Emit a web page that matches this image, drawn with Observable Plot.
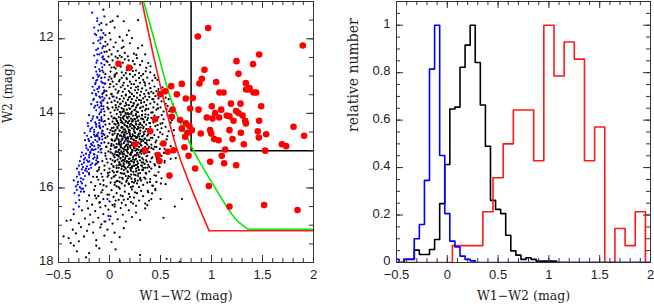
<!DOCTYPE html>
<html><head><meta charset="utf-8">
<script src="https://cdn.jsdelivr.net/npm/d3@7"></script>
<script src="https://cdn.jsdelivr.net/npm/@observablehq/plot@0.6"></script>
<style>
html,body{margin:0;padding:0;background:#fff}
#wrap{display:flex;width:654px;height:305px;overflow:hidden}
#wrap svg{display:block}
</style></head><body><div id="wrap"></div>
<script>
// ---------------- DATA ----------------
const colorTicks = [-0.5, 0, 0.5, 1, 1.5, 2];
const w2Ticks = [12, 14, 16, 18];
const relTicks = [0, 0.2, 0.4, 0.6, 0.8, 1];
const w2Domain = [11, 18];
const relDomain = [0, 1.1];

// left panel: black sources (W1-W2, W2 pairs)
const blackDots = [
-0.06,11.22, 0.03,11.52, 0.01,11.55, 0.14,11.53, 0.28,11.5, -0.08,11.77, 0.17,11.9, 0.19,11.78, -0.07,11.97, 0.05,11.7, 0.0,11.85, 0.1,11.95, -0.03,11.62, 0.22,11.98, 0.08,11.4, -0.04,11.9,
-0.04,12.08, -0.02,12.15, 0.0,12.3, -0.06,12.2, 0.02,12.42, 0.06,12.1, 0.12,12.25, 0.28,12.25, 0.32,12.18, 0.1,12.45, 0.15,12.38, 0.2,12.12, -0.05,12.35, 0.04,12.22, 0.08,12.33, 0.18,12.47, 0.24,12.4, -0.01,12.48, 0.13,12.05, 0.35,12.42, 0.06,12.48, 0.01,12.02,
-0.05,12.55, -0.02,12.62, 0.0,12.7, 0.03,12.58, 0.06,12.8, 0.09,12.66, 0.12,12.9, 0.15,12.55, 0.18,12.72, 0.2,12.95, 0.23,12.6, 0.26,12.85, 0.3,12.7, 0.33,12.95, 0.36,12.78, 0.4,12.9, 0.44,12.98, -0.07,12.85, -0.04,12.95, 0.01,12.88, 0.05,12.98, 0.08,12.52, 0.11,12.75, 0.14,12.98, 0.17,12.84, 0.22,12.78, 0.27,12.52, 0.29,12.92, 0.32,12.6, 0.38,12.65, 0.02,12.77, 0.07,12.92, 0.13,12.64, 0.25,12.97, 0.16,12.92,
-0.08,13.05, -0.05,13.2, -0.03,13.4, -0.01,13.1, 0.0,13.3, 0.02,13.48, 0.03,13.15, 0.05,13.02, 0.06,13.36, 0.07,13.22, 0.08,13.45, 0.1,13.1, 0.11,13.3, 0.12,13.05, 0.13,13.42, 0.14,13.18, 0.15,13.35, 0.16,13.5, 0.17,13.08, 0.18,13.26, 0.19,13.4, 0.2,13.15, 0.21,13.32, 0.22,13.48, 0.23,13.02, 0.24,13.22, 0.25,13.38, 0.26,13.12, 0.27,13.45, 0.28,13.28, 0.29,13.05, 0.3,13.18, 0.31,13.42, 0.32,13.33, 0.33,13.1, 0.34,13.48, 0.35,13.25, 0.36,13.38, 0.37,13.04, 0.38,13.45, 0.39,13.2, 0.4,13.32, 0.42,13.12, 0.43,13.46, 0.44,13.28, 0.46,13.4, 0.47,13.1, 0.48,13.35, 0.5,13.48, 0.52,13.3, -0.06,13.45, 0.04,13.28, 0.09,13.4, 0.13,13.25, 0.2,13.44, 0.26,13.3, 0.34,13.16, 0.41,13.42, 0.45,13.05, 0.0,13.02,
-0.1,13.55, -0.08,13.8, -0.06,13.65, -0.05,13.95, -0.03,13.52, -0.02,13.72, -0.01,13.88, 0.0,13.6, 0.01,13.98, 0.02,13.7, 0.03,13.84, 0.04,13.55, 0.05,13.92, 0.05,13.66, 0.06,13.78, 0.07,13.58, 0.08,13.9, 0.08,13.7, 0.09,13.82, 0.1,13.62, 0.1,13.96, 0.11,13.74, 0.12,13.53, 0.12,13.86, 0.13,13.68, 0.14,13.94, 0.14,13.6, 0.15,13.8, 0.16,13.52, 0.16,13.72, 0.17,13.9, 0.18,13.64, 0.18,13.99, 0.19,13.78, 0.2,13.56, 0.2,13.88, 0.21,13.7, 0.22,13.62, 0.22,13.95, 0.23,13.8, 0.24,13.54, 0.24,13.74, 0.25,13.9, 0.26,13.66, 0.26,13.84, 0.27,13.58, 0.28,13.97, 0.28,13.76, 0.29,13.64, 0.3,13.86, 0.3,13.52, 0.31,13.72, 0.32,13.94, 0.33,13.6, 0.33,13.82, 0.34,13.7, 0.35,13.55, 0.35,13.92, 0.36,13.78, 0.37,13.64, 0.38,13.88, 0.39,13.56, 0.4,13.74, 0.41,13.98, 0.42,13.62, 0.43,13.84, 0.44,13.7, 0.45,13.54, 0.46,13.9, 0.47,13.76, 0.48,13.6, 0.5,13.84, 0.51,13.68, 0.53,13.95, 0.55,13.58, 0.57,13.8, 0.6,13.9, 0.62,13.75, 0.65,13.98, 0.56,13.88, 0.52,13.52, 0.58,13.62, 0.11,13.98, 0.19,13.58,
-0.12,14.1, -0.1,14.35, -0.08,14.2, -0.07,14.48, -0.05,14.05, -0.04,14.3, -0.02,14.42, -0.01,14.15, 0.0,14.28, 0.01,14.45, 0.02,14.08, 0.03,14.22, 0.04,14.38, 0.05,14.12, 0.05,14.48, 0.06,14.3, 0.07,14.02, 0.07,14.2, 0.08,14.4, 0.09,14.1, 0.09,14.32, 0.1,14.46, 0.11,14.18, 0.11,14.04, 0.12,14.36, 0.13,14.26, 0.13,14.12, 0.14,14.44, 0.15,14.06, 0.15,14.32, 0.16,14.2, 0.16,14.48, 0.17,14.1, 0.18,14.38, 0.18,14.24, 0.19,14.02, 0.2,14.3, 0.2,14.46, 0.21,14.14, 0.22,14.4, 0.22,14.22, 0.23,14.06, 0.24,14.34, 0.24,14.48, 0.25,14.16, 0.26,14.28, 0.26,14.02, 0.27,14.42, 0.28,14.2, 0.28,14.36, 0.29,14.08, 0.3,14.26, 0.3,14.46, 0.31,14.14, 0.32,14.32, 0.32,14.04, 0.33,14.4, 0.34,14.22, 0.35,14.1, 0.35,14.48, 0.36,14.3, 0.37,14.18, 0.38,14.42, 0.38,14.04, 0.39,14.26, 0.4,14.36, 0.41,14.12, 0.42,14.46, 0.43,14.24, 0.44,14.06, 0.45,14.34, 0.46,14.18, 0.47,14.44, 0.48,14.1, 0.5,14.28, 0.51,14.4, 0.53,14.16, 0.55,14.36, 0.57,14.05, 0.6,14.25, 0.63,14.45, 0.58,14.48, 0.12,14.22, 0.17,14.34, 0.21,14.28, 0.25,14.38, 0.29,14.3, 0.33,14.16, 0.08,14.26, 0.03,14.48, 0.27,14.12, 0.19,14.44, 0.14,14.16, 0.36,14.42, 0.23,14.2,
-0.13,14.6, -0.11,14.85, -0.1,14.7, -0.08,14.95, -0.06,14.55, -0.05,14.78, -0.03,14.9, -0.02,14.62, -0.01,14.8, 0.0,14.52, 0.01,14.96, 0.02,14.7, 0.03,14.58, 0.04,14.86, 0.05,14.74, 0.05,14.54, 0.06,14.92, 0.07,14.66, 0.07,14.82, 0.08,14.56, 0.09,14.98, 0.09,14.72, 0.1,14.6, 0.11,14.88, 0.11,14.76, 0.12,14.52, 0.13,14.94, 0.13,14.68, 0.14,14.8, 0.15,14.58, 0.15,14.9, 0.16,14.7, 0.17,14.54, 0.17,14.84, 0.18,14.96, 0.18,14.64, 0.19,14.76, 0.2,14.56, 0.2,14.88, 0.21,14.68, 0.22,14.98, 0.22,14.8, 0.23,14.6, 0.24,14.72, 0.24,14.92, 0.25,14.52, 0.26,14.84, 0.26,14.66, 0.27,14.96, 0.28,14.58, 0.28,14.78, 0.29,14.9, 0.3,14.7, 0.3,14.54, 0.31,14.86, 0.32,14.62, 0.32,14.98, 0.33,14.74, 0.34,14.56, 0.35,14.9, 0.35,14.68, 0.36,14.8, 0.37,14.6, 0.38,14.94, 0.39,14.72, 0.4,14.52, 0.41,14.84, 0.42,14.66, 0.43,14.96, 0.44,14.58, 0.45,14.78, 0.46,14.9, 0.48,14.64, 0.5,14.82, 0.52,14.56, 0.54,14.95, 0.56,14.7, 0.6,14.88, 0.63,14.6, 0.66,14.98, 0.07,14.9, 0.12,14.62, 0.16,14.98, 0.19,14.5, 0.23,14.86, 0.27,14.64, 0.31,14.76, 0.34,14.98, 0.37,14.84, 0.02,14.82, -0.04,14.66, 0.1,14.84,
-0.15,15.1, -0.13,15.35, -0.12,15.2, -0.1,15.45, -0.08,15.05, -0.07,15.28, -0.05,15.4, -0.04,15.14, -0.02,15.32, -0.01,15.02, 0.0,15.48, 0.01,15.22, 0.02,15.36, 0.03,15.08, 0.04,15.44, 0.05,15.18, 0.05,15.3, 0.06,15.04, 0.07,15.4, 0.08,15.24, 0.08,15.12, 0.09,15.46, 0.1,15.34, 0.1,15.06, 0.11,15.2, 0.12,15.42, 0.12,15.28, 0.13,15.1, 0.14,15.38, 0.14,15.02, 0.15,15.24, 0.16,15.48, 0.16,15.14, 0.17,15.32, 0.18,15.06, 0.18,15.44, 0.19,15.22, 0.2,15.36, 0.2,15.1, 0.21,15.28, 0.22,15.46, 0.22,15.04, 0.23,15.18, 0.24,15.4, 0.24,15.3, 0.25,15.12, 0.26,15.48, 0.26,15.22, 0.27,15.06, 0.28,15.34, 0.28,15.44, 0.29,15.16, 0.3,15.26, 0.31,15.02, 0.31,15.4, 0.32,15.2, 0.33,15.32, 0.34,15.08, 0.35,15.46, 0.36,15.26, 0.37,15.14, 0.38,15.38, 0.39,15.04, 0.4,15.3, 0.41,15.48, 0.42,15.18, 0.44,15.36, 0.45,15.08, 0.47,15.26, 0.49,15.44, 0.51,15.14, 0.54,15.32, 0.57,15.05, 0.6,15.22, 0.03,15.26, 0.09,15.16, 0.15,15.44, 0.21,15.12, 0.27,15.38, 0.33,15.46, 0.07,15.12, -0.03,15.22, 0.19,15.3, 0.11,15.38, 0.65,15.2,
-0.2,15.6, -0.18,15.85, -0.16,15.7, -0.14,15.95, -0.12,15.55, -0.11,15.78, -0.09,15.9, -0.08,15.62, -0.06,15.8, -0.05,15.52, -0.03,15.96, -0.02,15.7, 0.0,15.58, 0.01,15.86, 0.02,15.74, 0.03,15.54, 0.05,15.92, 0.06,15.66, 0.07,15.82, 0.08,15.56, 0.09,15.98, 0.1,15.72, 0.11,15.6, 0.12,15.88, 0.13,15.76, 0.14,15.52, 0.15,15.94, 0.16,15.68, 0.17,15.8, 0.18,15.58, 0.19,15.9, 0.2,15.7, 0.21,15.54, 0.22,15.84, 0.23,15.96, 0.24,15.64, 0.25,15.76, 0.26,15.56, 0.27,15.88, 0.28,15.68, 0.29,15.98, 0.3,15.6, 0.31,15.8, 0.32,15.52, 0.33,15.92, 0.34,15.72, 0.36,15.62, 0.37,15.86, 0.39,15.56, 0.4,15.76, 0.42,15.94, 0.44,15.66, 0.46,15.84, 0.48,15.58, 0.51,15.74, 0.55,15.9, 0.04,15.7, 0.1,15.84, 0.18,15.74, 0.24,15.86, 0.3,15.76, -0.01,15.66, 0.14,15.62, 0.21,15.98, 0.07,15.96, -0.07,15.7,
-0.25,16.1, -0.22,16.35, -0.2,16.2, -0.17,16.45, -0.15,16.05, -0.13,16.28, -0.1,16.4, -0.08,16.12, -0.06,16.3, -0.04,16.48, -0.02,16.18, 0.0,16.36, 0.02,16.06, 0.04,16.24, 0.05,16.44, 0.07,16.14, 0.09,16.32, 0.1,16.02, 0.12,16.4, 0.13,16.22, 0.15,16.1, 0.16,16.46, 0.18,16.3, 0.19,16.16, 0.21,16.38, 0.22,16.04, 0.24,16.26, 0.26,16.48, 0.27,16.14, 0.29,16.34, 0.31,16.08, 0.33,16.22, 0.35,16.42, 0.38,16.12, 0.41,16.3, 0.45,16.06, 0.06,16.34, 0.11,16.2, 0.2,16.24, 0.25,16.12, -0.11,16.22, 0.03,16.46, 0.14,16.32, 0.23,16.42, 0.5,16.3, 0.71,16.3, 0.64,16.5,
-0.42,16.88, -0.38,16.86, -0.35,16.7, -0.3,16.95, -0.27,16.6, -0.24,16.82, -0.21,16.55, -0.19,16.72, -0.16,16.92, -0.14,16.62, -0.11,16.8, -0.09,16.52, -0.06,16.7, -0.04,16.9, -0.01,16.58, 0.01,16.76, 0.03,16.96, 0.06,16.64, 0.08,16.84, 0.11,16.54, 0.13,16.72, 0.16,16.9, 0.19,16.6, 0.22,16.78, 0.26,16.66, 0.3,16.86, 0.05,16.5, -0.2,16.98, 0.35,16.55, -0.08,16.98, 0.53,16.8,
-0.45,17.3, -0.4,17.35, -0.36,17.12, -0.33,17.22, -0.3,17.43, -0.28,17.05, -0.25,17.3, -0.22,17.15, -0.16,17.2, -0.13,17.4, -0.09,17.06, -0.05,17.28, -0.02,17.12, 0.02,17.45, 0.05,17.2, 0.1,17.32, -0.38,17.48, 0.14,17.08,
-0.35,17.55, -0.32,17.7, -0.23,17.86, -0.2,17.75, -0.13,17.55, -0.1,17.62, 0.06,17.65, 0.1,17.96, 0.3,17.8, 0.56,17.9, 0.69,17.98,
0.153,14.512, 0.217,14.633, 0.087,14.271, 0.312,14.855, 0.264,15.127, 0.138,15.342, 0.191,14.087, 0.243,13.914, 0.059,14.706, 0.377,14.569, 0.116,15.018, 0.285,14.395, 0.204,15.463, 0.331,15.239, 0.072,15.571, 0.168,13.773, 0.259,14.741, 0.142,14.958, 0.226,14.174, 0.309,13.655, 0.098,14.463, 0.186,15.683, 0.352,14.027, 0.041,15.136, 0.277,15.804, 0.129,14.384, 0.213,14.856, 0.296,15.048, 0.064,13.847, 0.237,15.327, 0.158,14.229, 0.342,14.682, 0.108,15.214, 0.251,14.517, 0.179,14.908, 0.023,14.396, 0.319,15.402, 0.147,15.619, 0.271,13.787, 0.201,14.352, 0.084,15.039, 0.363,15.151, 0.127,13.958, 0.233,15.572, 0.291,14.622, 0.052,14.918, 0.174,15.148, 0.398,14.258, 0.219,13.816, 0.106,14.587, 0.248,15.246, 0.321,14.144, 0.163,15.834, 0.037,15.412, 0.286,14.976, 0.137,14.083, 0.209,15.069, 0.355,15.597, 0.091,14.826, 0.262,14.301, 0.184,14.679, 0.118,15.489, 0.303,14.468, 0.066,14.152, 0.228,14.995, 0.388,14.896, 0.149,14.754, 0.276,15.456, 0.195,13.865, 0.047,15.689, 0.335,14.361, 0.112,14.913, 0.257,14.048, 0.171,15.281, 0.301,15.731, 0.082,14.548, 0.239,14.427, 0.412,15.205, 0.133,15.163, 0.215,15.751, 0.348,14.787, 0.016,14.873, 0.189,14.441, 0.267,14.866, 0.095,15.307, 0.317,14.711, 0.156,13.989, 0.243,15.408, 0.372,15.014, 0.074,14.609, 0.198,15.215, 0.283,14.186, 0.122,14.707, 0.227,14.563, 0.344,15.355, 0.058,15.272, 0.169,14.346, 0.256,15.658, 0.103,13.749, 0.295,15.169, 0.143,15.092, 0.211,14.017, 0.381,14.474, 0.031,14.563, 0.247,14.938, 0.176,15.551, 0.326,14.939, 0.089,15.148, 0.268,14.651, 0.151,14.427, 0.206,14.771, 0.359,13.879, 0.115,14.248, 0.236,15.151, 0.302,14.283, 0.069,15.463, 0.183,14.833, 0.272,15.289, 0.139,14.618, 0.223,14.317, 0.404,14.654, 0.048,14.284, 0.192,15.394, 0.313,15.084, 0.125,15.729, 0.258,14.221, 0.166,14.669, 0.339,14.241, 0.081,15.811, 0.245,14.784, 0.132,15.256, 0.218,15.287, 0.366,15.294, 0.012,15.047, 0.178,14.134, 0.289,14.543, 0.098,14.971, 0.264,15.539, 0.146,14.297, 0.231,14.698, 0.327,14.603, 0.061,14.441, 0.202,14.613, 0.281,15.618, 0.117,14.823, 0.253,15.003, 0.391,15.433, 0.161,14.864, 0.214,13.984, 0.309,14.995, 0.076,14.368, 0.194,14.203, 0.274,14.429, 0.135,15.423, 0.241,14.364, 0.352,15.752, 0.043,15.584, 0.173,15.021, 0.298,14.812, 0.109,14.123, 0.236,13.727, 0.155,15.196, 0.329,15.521, 0.087,14.691, 0.208,15.509, 0.265,13.951, 0.141,14.563, 0.221,15.413, 0.376,14.128, 0.027,14.727, 0.187,15.876, 0.304,14.379, 0.121,15.612, 0.249,14.612, 0.168,14.023, 0.343,15.062, 0.093,15.384, 0.259,15.382, 0.129,14.497, 0.197,14.529, 0.316,15.313, 0.054,15.857, 0.226,14.821, 0.283,15.106, 0.148,15.288, 0.212,15.641, 0.367,14.725, 0.102,15.093, 0.272,14.095, 0.181,14.264, 0.307,13.838, 0.078,14.218, 0.243,14.147, 0.159,15.479, 0.335,14.512, 0.116,14.386, 0.229,15.233, 0.289,15.517, 0.065,15.017, 0.176,14.739, 0.251,15.814, 0.138,13.889, 0.205,14.928, 0.372,15.453, 0.094,14.779, 0.264,14.986, 0.153,14.641, 0.217,15.048, 0.319,14.055, 0.039,14.136, 0.189,15.327, 0.296,14.684, 0.124,15.059,
-0.073,14.617, 0.497,14.512, -0.041,15.073, 0.463,15.216, -0.092,14.389, 0.512,14.047, 0.431,13.623, -0.021,13.837, 0.457,15.673, -0.114,15.316, 0.527,14.803, 0.418,16.147, -0.058,15.925, 0.476,13.869, -0.137,14.962, 0.489,15.426, 0.402,13.327, -0.003,16.183, 0.443,14.897, -0.087,13.702, 0.534,15.062, 0.426,15.944, -0.046,14.208, 0.471,14.316, -0.124,15.705, 0.551,13.742, 0.388,16.344, 0.007,13.216, 0.459,14.731, -0.068,16.058, 0.504,15.883, 0.423,13.974, -0.032,14.893, 0.482,13.418, -0.105,15.511, 0.567,14.613, 0.397,15.839, 0.018,13.489, 0.446,15.397, -0.079,14.152, 0.518,14.263, 0.376,16.081, -0.016,15.601, 0.465,14.132, -0.142,16.207, 0.541,15.274, 0.411,14.927, -0.051,13.383, 0.493,14.955, 0.371,16.463, 0.585,13.943, -0.095,16.381, 0.449,16.028, 0.612,14.183, 0.355,12.874, 0.263,12.433, 0.137,12.216, 0.046,12.763, 0.188,12.577, 0.311,12.991, -0.028,12.347, 0.093,13.141, 0.229,12.864, 0.402,12.737, 0.167,13.052, 0.281,13.362, 0.057,12.952, 0.347,13.186, 0.119,12.493, 0.214,13.213, 0.019,13.071, 0.387,13.474, 0.246,12.681
];

// left panel: blue sources
const blueDots = [
-0.17,11.3, -0.12,11.45, -0.08,11.58, -0.15,11.7, -0.1,11.62, -0.06,11.85, -0.13,11.9, -0.09,11.96, -0.05,11.4, -0.11,11.78,
-0.13,12.3, -0.1,12.42, -0.07,12.5, -0.12,12.58, -0.08,12.66, -0.05,12.7, -0.14,12.76, -0.1,12.82, -0.06,12.9, -0.12,12.96, -0.09,12.12, -0.04,12.2, -0.11,12.05, -0.07,12.25, -0.15,12.45, -0.03,12.6, -0.08,12.38, -0.13,12.88, -0.06,12.55, -0.1,12.98,
-0.16,13.05, -0.12,13.1, -0.08,13.15, -0.14,13.22, -0.1,13.28, -0.06,13.3, -0.15,13.38, -0.11,13.42, -0.07,13.48, -0.13,13.52, -0.09,13.58, -0.05,13.6, -0.16,13.64, -0.12,13.7, -0.08,13.74, -0.14,13.8, -0.1,13.84, -0.06,13.88, -0.13,13.92, -0.09,13.97, -0.17,13.46, -0.04,13.2, -0.11,13.02, -0.15,13.85, -0.07,13.66, -0.12,13.35, -0.08,13.9, -0.18,13.75, -0.05,13.42, -0.13,13.12,
-0.2,14.05, -0.16,14.08, -0.12,14.12, -0.08,14.1, -0.18,14.2, -0.14,14.24, -0.1,14.26, -0.06,14.22, -0.21,14.34, -0.17,14.38, -0.13,14.36, -0.09,14.4, -0.19,14.48, -0.15,14.5, -0.11,14.52, -0.07,14.46, -0.22,14.6, -0.18,14.64, -0.14,14.62, -0.1,14.66, -0.2,14.74, -0.16,14.78, -0.12,14.76, -0.08,14.8, -0.23,14.86, -0.19,14.9, -0.15,14.88, -0.11,14.92, -0.21,14.98, -0.17,14.96, -0.13,14.3, -0.05,14.58, -0.24,14.72, -0.1,14.02, -0.15,14.44, -0.07,14.7, -0.18,14.82, -0.12,14.56,
-0.27,15.05, -0.23,15.08, -0.19,15.04, -0.15,15.1, -0.28,15.16, -0.24,15.2, -0.2,15.18, -0.16,15.22, -0.12,15.14, -0.29,15.28, -0.25,15.32, -0.21,15.3, -0.17,15.34, -0.13,15.26, -0.3,15.4, -0.26,15.44, -0.22,15.42, -0.18,15.46, -0.14,15.38, -0.27,15.5, -0.23,15.48, -0.11,15.3, -0.2,15.12, -0.25,15.24,
-0.3,15.58, -0.26,15.6, -0.22,15.56, -0.32,15.7, -0.28,15.74, -0.24,15.68, -0.31,15.84, -0.27,15.88, -0.33,15.96, -0.29,15.98, -0.2,15.64, -0.35,15.8,
-0.32,16.05, -0.28,16.1, -0.3,16.2, -0.33,16.4, -0.3,16.5, -0.01,16.75, 0.0,16.85, -0.05,16.9, -0.26,16.02,
0.03,13.55, 0.12,14.7, 0.18,14.76, 0.05,15.1, -0.02,16.3,
-0.143,11.867, -0.087,12.017, -0.112,12.263, -0.064,12.473, -0.128,12.642, -0.093,12.873, -0.047,13.037, -0.137,13.183, -0.104,13.317, -0.071,13.553, -0.153,13.612, -0.118,13.777, -0.082,13.963, -0.167,14.143, -0.133,14.287, -0.097,14.331, -0.186,14.417, -0.152,14.571, -0.116,14.613, -0.078,14.537, -0.207,14.693, -0.171,14.853, -0.139,14.717, -0.093,14.872, -0.226,14.931, -0.188,15.063, -0.153,14.983, -0.254,15.123, -0.221,15.257, -0.186,15.383, -0.147,15.183, -0.271,15.367, -0.238,15.531, -0.203,15.493, -0.296,15.637, -0.257,15.773, -0.312,15.911, -0.276,16.023, -0.343,16.137, -0.296,16.327, -0.121,11.523, -0.158,12.118, -0.071,12.763, -0.165,13.287, -0.059,13.812, -0.213,14.263, -0.062,14.357, -0.244,14.527, -0.108,15.037, -0.318,15.483, -0.234,15.937, -0.353,16.573, -0.102,14.183, -0.134,13.477, -0.119,12.417, -0.176,14.987, -0.067,13.183, -0.197,15.287, -0.087,14.973, -0.281,15.827
];

// left panel: red (selected) sources
const redDots = [
0.088,12.67, 0.193,12.78, 0.967,11.71, 0.866,11.94, 1.895,12.18, 1.467,12.42, 1.245,12.60, 1.408,12.68, 0.931,12.83, 1.265,12.94,
0.905,13.07, 0.882,13.20, 1.046,13.16, 1.337,13.19, 0.709,13.21, 0.605,13.27, 1.373,13.32, 1.340,13.36, 1.366,13.36, 1.412,13.44,
1.438,13.44, 1.078,13.44, 1.118,13.44, 0.546,13.41, 0.497,13.49, 0.660,13.49, 0.748,13.60, 0.817,13.59, 1.190,13.74, 1.284,13.74,
1.487,13.81, 1.003,13.81, 0.873,13.90, 1.095,13.90, 1.242,13.94, 0.618,13.90, 0.791,13.87, 1.036,13.99, 1.265,13.99, 1.150,14.06,
1.304,14.06, 0.954,14.11, 1.010,14.14, 1.075,14.11, 1.176,14.08, 0.611,14.09, 0.448,14.16, 0.693,14.18, 1.216,14.20, 1.330,14.20,
1.467,14.20, 1.337,14.27, 0.748,14.27, 0.709,14.41, 0.765,14.52, 0.807,14.45, 0.987,14.45, 0.997,14.54, 1.176,14.45, 1.288,14.52,
1.454,14.48, 1.536,14.56, 1.804,14.36, 1.908,14.60, 0.895,14.54, 1.026,14.69, 1.069,14.72, 1.206,14.69, 1.464,14.65, 1.317,14.83,
1.690,14.83, 1.732,14.88, 1.134,14.97, 1.526,15.00, 0.399,14.48, 0.252,14.83, 0.350,15.00, 0.529,14.81, 0.572,15.03, 0.627,14.99,
0.735,14.91, 0.474,15.12, 0.490,15.28, 0.775,15.14, 0.987,15.30, 1.101,15.14, 1.124,15.34, 1.242,15.39, 0.840,15.48, 0.588,15.67,
0.974,15.95, 1.176,16.50, 1.516,16.46, 1.843,16.59, 0.742,14.63, 0.784,14.34
];

// selection curves (W1-W2 vs W2)
const redCutW12 = [0.318, 0.424, 0.536, 0.669, 0.816, 0.977];
const redCutW2  = [11.0, 12.36, 13.69, 15.03, 16.10, 17.15];
const greenCutW12 = [0.335, 0.473, 0.610, 0.830, 1.017, 1.232, 1.360];
const greenCutW2  = [11.0, 12.36, 13.69, 15.03, 15.91, 16.82, 17.11];
const boxW12 = 0.8, boxW2 = 15.0;

// right panel: histograms (bin centres and relative numbers)
const blueBinW = 0.05;
const blueCenters = [-0.5,-0.45,-0.4,-0.35,-0.3,-0.25,-0.2,-0.15,-0.1,-0.05,0,0.05,0.1,0.15,0.2,0.25];
const blueRel     = [0.014,0,0.014,0.014,0.10,0.16,0.346,0.815,1.0,0.451,0.206,0.09,0.066,0.027,0.013,0.007];
const blackBinW = 0.05;
const blackCenters = [-0.45,-0.4,-0.35,-0.3,-0.25,-0.2,-0.15,-0.1,-0.05,0,0.05,0.1,0.15,0.2,0.25,0.3,0.35,0.4,0.45,0.5,0.55,0.6,0.65,0.7,0.75,0.8,0.85,0.9,0.95,1.0,1.05];
const blackRel     = [0,0.013,0.013,0.052,0.034,0.034,0.055,0.097,0.248,0.413,0.647,0.655,0.823,0.916,1.0,0.843,0.664,0.49,0.262,0.224,0.206,0.115,0.049,0.031,0.013,0.02,0.013,0.006,0.006,0.006,0.006];
const redBinW = 0.1;
const redCenters = [0.1,0.2,0.3,0.4,0.5,0.6,0.7,0.8,0.9,1.0,1.1,1.2,1.3,1.4,1.5,1.6,1.7,1.8,1.9];
const redRel     = [0.071,0.071,0.071,0.214,0.357,0.5,0.643,0.643,0.429,1.0,0.786,0.929,0.857,0.429,0.571,0,0.143,0.071,0.214];

// ---------------- HELPERS ----------------
const pairs = a => d3.range(0, a.length, 2).map(i => ({x: a[i], y: a[i + 1]}));
const zipPts = (xs, ys) => xs.map((x, i) => ({x, y: ys[i]}));
function histSteps(centers, values, w, [x0, x1]) {
  const p = [];
  const first = centers[0] - w / 2;
  if (first > x0) p.push({x: x0, y: 0}, {x: first, y: 0});
  centers.forEach((c, i) => { p.push({x: c - w / 2, y: values[i]}, {x: c + w / 2, y: values[i]}); });
  const last = centers[centers.length - 1] + w / 2;
  p.push({x: last, y: 0});
  if (last < x1) p.push({x: x1, y: 0});
  return p;
}
const fmt = d3.format("");
const xDomain = [colorTicks[0], colorTicks[colorTicks.length - 1]];
const xMinor = d3.range(Math.round(xDomain[0] * 10), Math.round(xDomain[1] * 10) + 1).map(i => i / 10);
const frameColor = "#333";

function frameTicks(xMajor, xMinorT, yMajor, yMinorT, W, H) {
  const M = 7, m = 4, s = {stroke: frameColor, strokeWidth: 1};
  return [
    Plot.tickX(xMinorT, {x: d => d, insetTop: H - m, ...s}),
    Plot.tickX(xMinorT, {x: d => d, insetBottom: H - m, ...s}),
    Plot.tickX(xMajor, {x: d => d, insetTop: H - M, ...s}),
    Plot.tickX(xMajor, {x: d => d, insetBottom: H - M, ...s}),
    Plot.tickY(yMinorT, {y: d => d, insetLeft: W - m, ...s}),
    Plot.tickY(yMinorT, {y: d => d, insetRight: W - m, ...s}),
    Plot.tickY(yMajor, {y: d => d, insetLeft: W - M, ...s}),
    Plot.tickY(yMajor, {y: d => d, insetRight: W - M, ...s})
  ];
}
const labelFont = "DejaVu Serif";
const baseStyle = {fontFamily: "Liberation Sans", fontSize: "13px", background: "#fff", overflow: "visible", color: "#222"};

// ---------------- LEFT PANEL ----------------
{
  const width = 330, height = 305, mL = 58, mR = 17, mT = 1, mB = 43;
  const W = width - mL - mR, H = height - mT - mB;
  const yMinor = d3.range(w2Domain[0] * 2, w2Domain[1] * 2 + 1).map(i => i / 2);
  const redCurve = zipPts(redCutW12, redCutW2);
  const greenCurve = zipPts(greenCutW12, greenCutW2);
  const redFloor = [redCurve[redCurve.length - 1], {x: xDomain[1], y: redCutW2[redCutW2.length - 1]}];
  const greenFloor = [greenCurve[greenCurve.length - 1], {x: xDomain[1], y: greenCutW2[greenCutW2.length - 1]}];
  const box = [{x: boxW12, y: w2Domain[0]}, {x: boxW12, y: boxW2}, {x: xDomain[1], y: boxW2}];
  const left = Plot.plot({
    width, height, marginLeft: mL, marginRight: mR, marginTop: mT, marginBottom: mB,
    style: baseStyle,
    x: {domain: xDomain},
    y: {domain: w2Domain, reverse: true},
    marks: [
      Plot.dot(pairs(blackDots), {x: "x", y: "y", r: 1.1, fill: "#000", clip: true}),
      Plot.dot(pairs(blueDots), {x: "x", y: "y", r: 1.1, fill: "#0000ff", clip: true}),
      Plot.line(box, {x: "x", y: "y", stroke: "#000", strokeWidth: 1.5}),
      Plot.line(greenCurve, {x: "x", y: "y", stroke: "#00ee00", strokeWidth: 1.6, curve: "catmull-rom", clip: true}),
      Plot.line(greenFloor, {x: "x", y: "y", stroke: "#00ee00", strokeWidth: 1.6}),
      Plot.line(redCurve, {x: "x", y: "y", stroke: "#ff1a1a", strokeWidth: 1.6, curve: "catmull-rom", clip: true}),
      Plot.line(redFloor, {x: "x", y: "y", stroke: "#ff1a1a", strokeWidth: 1.6}),
      Plot.dot(pairs(redDots), {x: "x", y: "y", r: 3.3, fill: "#ff0000", clip: true}),
      Plot.frame({stroke: frameColor, strokeWidth: 1}),
      ...frameTicks(colorTicks, xMinor, w2Ticks, yMinor, W, H),
      Plot.axisX({ticks: colorTicks, tickSize: 0, tickPadding: 7, tickFormat: fmt, label: null}),
      Plot.axisY({ticks: w2Ticks, tickSize: 0, tickPadding: 5, dy: -1.5, tickFormat: fmt, label: null}),
      Plot.text(["W1\u2212W2 (mag)"], {frameAnchor: "bottom", dy: 33, fontFamily: labelFont, fontSize: 12.5, fill: "#222", lineAnchor: "middle"}),
      Plot.text(["W2 (mag)"], {frameAnchor: "left", dx: -50, dy: -9, rotate: -90, fontFamily: labelFont, fontSize: 12, fill: "#222", lineAnchor: "middle"})
    ]
  });
  document.getElementById("wrap").append(left);
}

// ---------------- RIGHT PANEL ----------------
{
  const width = 324, height = 305, mL = 66, mR = 4, mT = 1, mB = 43;
  const W = width - mL - mR, H = height - mT - mB;
  const yMinor = d3.range(0, Math.round(relDomain[1] * 20) + 1).map(i => i / 20);
  const right = Plot.plot({
    width, height, marginLeft: mL, marginRight: mR, marginTop: mT, marginBottom: mB,
    style: baseStyle,
    x: {domain: xDomain},
    y: {domain: relDomain},
    marks: [
      Plot.line(histSteps(blackCenters, blackRel, blackBinW, xDomain), {x: "x", y: "y", stroke: "#000", strokeWidth: 1.6, clip: true}),
      Plot.line(histSteps(redCenters, redRel, redBinW, xDomain), {x: "x", y: "y", stroke: "#ff1a1a", strokeWidth: 1.6, clip: true}),
      Plot.line(histSteps(blueCenters, blueRel, blueBinW, xDomain), {x: "x", y: "y", stroke: "#0000ff", strokeWidth: 1.6, clip: true}),
      Plot.frame({stroke: frameColor, strokeWidth: 1}),
      ...frameTicks(colorTicks, xMinor, relTicks, yMinor, W, H),
      Plot.axisX({ticks: colorTicks, tickSize: 0, tickPadding: 7, tickFormat: fmt, label: null}),
      Plot.axisY({ticks: relTicks, tickSize: 0, tickPadding: 6, dy: -1.5, tickFormat: fmt, label: null}),
      Plot.text(["W1\u2212W2 (mag)"], {frameAnchor: "bottom", dy: 33, fontFamily: labelFont, fontSize: 12.5, fill: "#222", lineAnchor: "middle"}),
      Plot.text(["relative number"], {frameAnchor: "left", dx: -43, rotate: -90, fontFamily: labelFont, fontSize: 14, fill: "#222", lineAnchor: "middle"})
    ]
  });
  document.getElementById("wrap").append(right);
}
</script>
</body></html>
